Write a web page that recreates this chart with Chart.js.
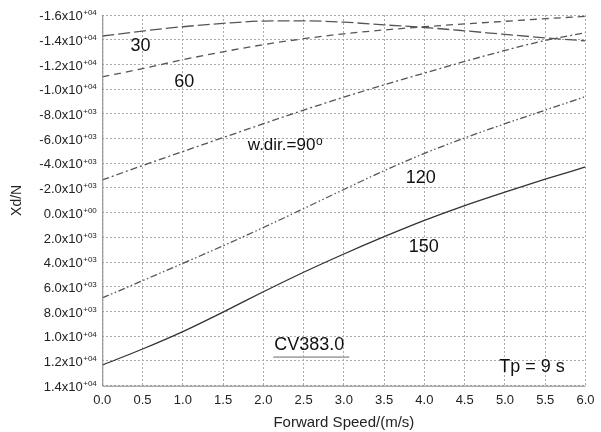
<!DOCTYPE html>
<html>
<head>
<meta charset="utf-8">
<script src="https://cdn.jsdelivr.net/npm/chart.js@4/dist/chart.umd.min.js"></script>
<style>
html,body{margin:0;padding:0;background:#fff;}
#wrap{width:601px;height:432px;position:relative;}
</style>
</head>
<body>
<div id="wrap"><canvas id="c" width="601" height="432"></canvas></div>
<script>
const speeds = [0.0, 0.5, 1.0, 1.5, 2.0, 2.5, 3.0, 3.5, 4.0, 4.5, 5.0, 5.5, 6.0];
const dir30  = [-14300, -14700, -15050, -15320, -15510, -15530, -15420, -15200, -14990, -14720, -14430, -14150, -13910];
const dir60  = [-11000, -11660, -12380, -13020, -13600, -14080, -14480, -14790, -15050, -15280, -15490, -15700, -15890];
const dir90  = [-2650, -3820, -4950, -6080, -7200, -8300, -9350, -10350, -11300, -12240, -13130, -13940, -14570];
const dir120 = [6900, 5500, 4100, 2680, 1200, -330, -1880, -3400, -4800, -6050, -7200, -8300, -9400];
const dir150 = [12330, 11030, 9620, 8040, 6400, 4820, 3340, 1940, 620, -580, -1670, -2710, -3700];
const xTicks = [0, 6, 0.5];          // min, max, step
const yTicks = [-16000, 14000, 2000]; // min, max, step
const notes = [
  {text: '30', x: 0.349, y: -13060},
  {text: '60', x: 0.893, y: -10150},
  {text: 'w.dir.=90', sup: 'o', x: 1.807, y: -5050, size: 17},
  {text: '120', x: 3.769, y: -2400},
  {text: '150', x: 3.806, y: 3200},
  {text: 'CV383.0', x: 2.135, y: 11130, underline: true},
  {text: 'Tp = 9 s', x: 4.929, y: 12900}
];

const FONT = "'Liberation Sans', Arial, Helvetica, sans-serif";
Chart.defaults.font.family = FONT;

function pts(arr){ return speeds.map((s,i)=>({x:s, y:arr[i]})); }

function sci(v){
  if (v === 0) return ['0.0x10', '+00'];
  const e = Math.floor(Math.log10(Math.abs(v)) + 1e-9);
  const m = v / Math.pow(10, e);
  return [m.toFixed(1) + 'x10', (e >= 0 ? '+' : '-') + String(Math.abs(e)).padStart(2,'0')];
}

const overlay = {
  id: 'overlay',
  afterDraw(chart){
    const ctx = chart.ctx, a = chart.chartArea;
    const xs = chart.scales.x, ys = chart.scales.y;
    ctx.save();
    // axis lines (left & bottom)
    ctx.strokeStyle = '#888'; ctx.lineWidth = 1; ctx.setLineDash([]);
    ctx.beginPath();
    ctx.moveTo(a.left + 0.5, a.top); ctx.lineTo(a.left + 0.5, a.bottom + 0.5);
    ctx.lineTo(a.right, a.bottom + 0.5);
    ctx.stroke();
    // y tick labels with superscript exponents
    ctx.fillStyle = '#222';
    ys.ticks.forEach(t => {
      const y = ys.getPixelForValue(t.value);
      const [m, e] = sci(t.value);
      ctx.font = '8px ' + FONT;
      ctx.textAlign = 'right'; ctx.textBaseline = 'alphabetic';
      const right = a.left - 5.5;
      const ew = ctx.measureText(e).width;
      ctx.fillText(e, right, y + 0.3);
      ctx.font = '13px ' + FONT;
      ctx.fillText(m, right - ew - 0.5, y + 5.2);
    });
    // annotations
    ctx.fillStyle = '#111';
    ctx.textAlign = 'left'; ctx.textBaseline = 'alphabetic';
    notes.forEach(n => {
      const px = xs.getPixelForValue(n.x), py = ys.getPixelForValue(n.y);
      const size = n.size || 18;
      ctx.font = size + 'px ' + FONT;
      ctx.fillText(n.text, px, py);
      const w = ctx.measureText(n.text).width;
      if (n.sup) {
        ctx.font = '12px ' + FONT;
        ctx.fillText(n.sup, px + w + 0.5, py - 5.8);
      }
      if (n.underline) {
        ctx.strokeStyle = '#aaa'; ctx.lineWidth = 1.8;
        ctx.beginPath();
        ctx.moveTo(px - 1, py + 6.8); ctx.lineTo(px + w + 5, py + 6.8);
        ctx.stroke();
      }
    });
    ctx.restore();
  }
};

const lineBase = {pointRadius: 0, borderWidth: 1.3, fill: false, cubicInterpolationMode: 'monotone'};

new Chart(document.getElementById('c'), {
  type: 'line',
  data: {
    datasets: [
      Object.assign({label: '30', data: pts(dir30), borderColor: '#555', borderDash: [12, 4]}, lineBase),
      Object.assign({label: '60', data: pts(dir60), borderColor: '#555', borderDash: [7, 5]}, lineBase),
      Object.assign({label: '90', data: pts(dir90), borderColor: '#555', borderDash: [7, 3, 2, 3]}, lineBase),
      Object.assign({label: '120', data: pts(dir120), borderColor: '#555', borderDash: [7, 2.5, 1.5, 2.5, 1.5, 2.5]}, lineBase),
      Object.assign({label: '150', data: pts(dir150), borderColor: '#333'}, lineBase)
    ]
  },
  options: {
    responsive: false,
    animation: false,
    devicePixelRatio: 1,
    layout: {padding: {top: 15, right: 10.5, bottom: 0, left: 0}},
    plugins: {legend: {display: false}, tooltip: {enabled: false}},
    scales: {
      x: {
        type: 'linear',
        min: xTicks[0], max: xTicks[1],
        ticks: {stepSize: xTicks[2], color: '#222', font: {size: 13}, padding: 6.5,
                callback: v => Number(v).toFixed(1), maxRotation: 0, autoSkip: false},
        grid: {color: '#aaa', lineWidth: 1, drawTicks: false},
        border: {display: false, dash: [2, 2]},
        title: {display: true, text: 'Forward Speed/(m/s)', color: '#222', font: {size: 15}, padding: {top: 0, bottom: 0.5}},
        afterFit(s){ s.height = 46.3; }
      },
      y: {
        type: 'linear',
        reverse: true,
        min: yTicks[0], max: yTicks[1],
        ticks: {stepSize: yTicks[2], display: false},
        grid: {color: '#aaa', lineWidth: 1, drawTicks: false},
        border: {display: false, dash: [2, 2]},
        title: {display: true, text: 'Xd/N', color: '#222', font: {size: 14}, padding: {top: 8.6, bottom: 0}},
        afterFit(s){ s.width = 102.3; }
      }
    }
  },
  plugins: [overlay]
});
</script>
</body>
</html>
